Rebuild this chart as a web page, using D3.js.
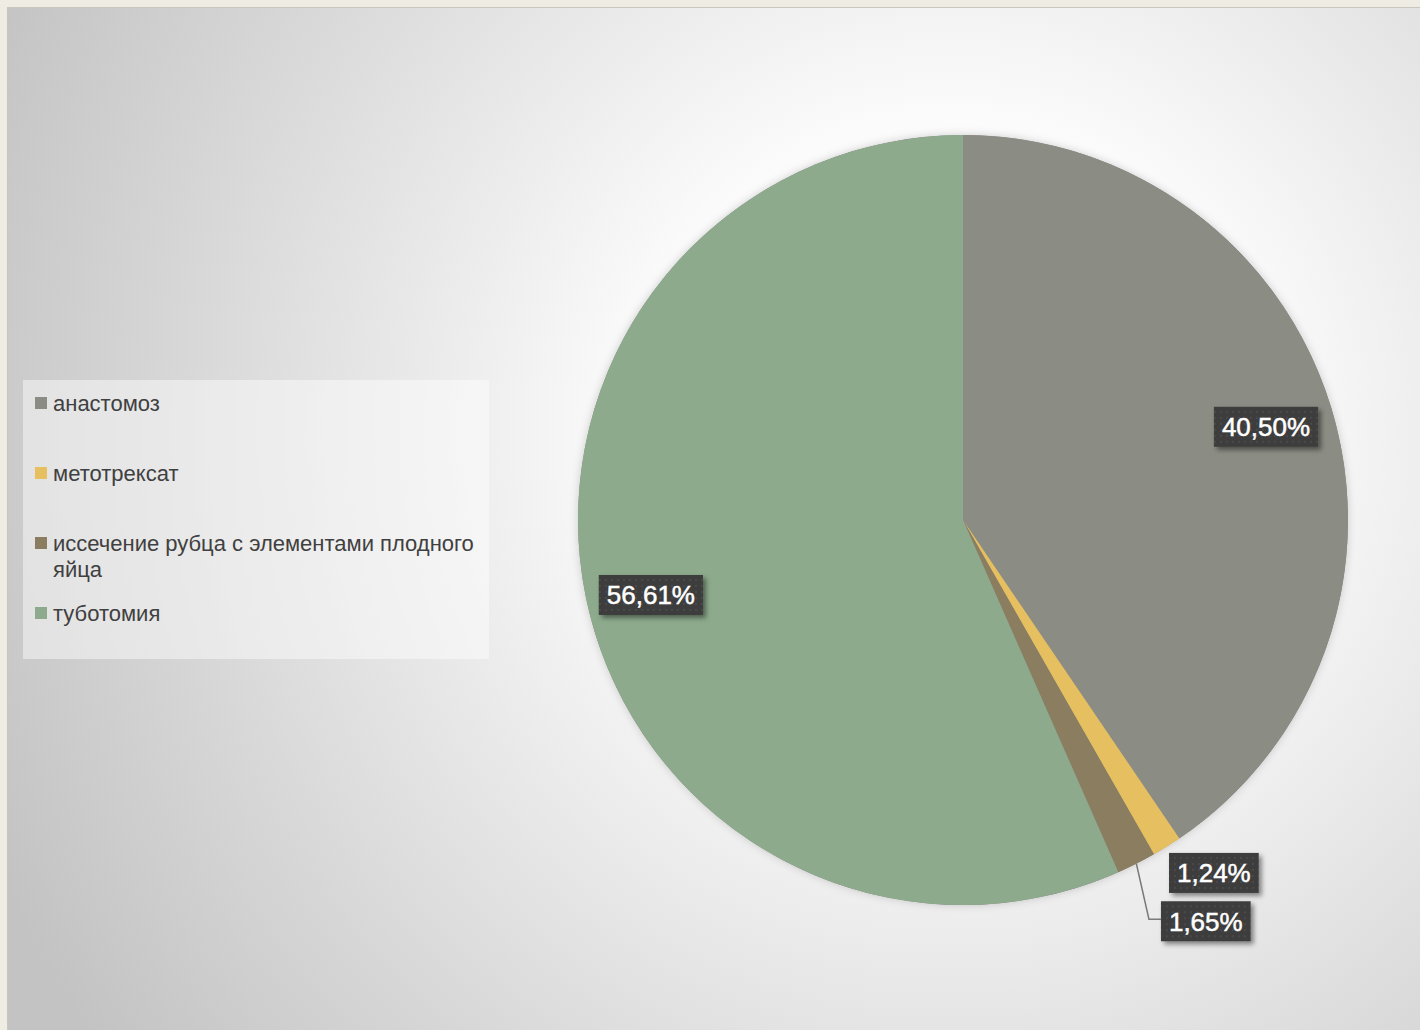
<!DOCTYPE html>
<html><head><meta charset="utf-8">
<script src="https://cdn.jsdelivr.net/npm/d3@7"></script>
<style>html,body{margin:0;padding:0;background:#efece4;}svg{display:block;}</style>
</head><body>
<svg id="chart" width="1420" height="1030"></svg>
<script>
const categories = ["анастомоз", "метотрексат", "иссечение рубца с элементами плодного яйца", "туботомия"];
const values = [40.50, 1.24, 1.65, 56.61];
const labels = ["40,50%", "1,24%", "1,65%", "56,61%"];
const colors = ["#8b8c83", "#e6bf60", "#8b7d5f", "#8dab8c"];

const W = 1420, H = 1030;
const svg = d3.select("#chart");
const defs = svg.append("defs");

const rg = defs.append("radialGradient").attr("id","bg").attr("gradientUnits","userSpaceOnUse")
  .attr("cx", 950).attr("cy", 430).attr("r", 1050);
rg.append("stop").attr("offset","0").attr("stop-color","#ffffff");
rg.append("stop").attr("offset","0.3").attr("stop-color","#fbfbfb");
rg.append("stop").attr("offset","0.75").attr("stop-color","#d6d6d6");
rg.append("stop").attr("offset","1").attr("stop-color","#c3c3c3");

const pat = defs.append("pattern").attr("id","dots").attr("patternUnits","userSpaceOnUse")
  .attr("width",6).attr("height",6);
pat.append("rect").attr("width",6).attr("height",6).attr("fill","#3c3c3c");
pat.append("rect").attr("x",2).attr("y",2).attr("width",2).attr("height",2).attr("fill","#4a4a4a");

const sh = defs.append("filter").attr("id","shadow").attr("x","-20%").attr("y","-20%").attr("width","150%").attr("height","160%");
sh.append("feDropShadow").attr("dx",3).attr("dy",3).attr("stdDeviation",2.5).attr("flood-color","#000").attr("flood-opacity",0.45);

const psh = defs.append("filter").attr("id","pshadow").attr("x","-10%").attr("y","-10%").attr("width","120%").attr("height","120%");
psh.append("feDropShadow").attr("dx",0).attr("dy",0).attr("stdDeviation",4).attr("flood-color","#000").attr("flood-opacity",0.18);

svg.append("rect").attr("x",0).attr("y",0).attr("width",W).attr("height",H).attr("fill","#efece4");
svg.append("rect").attr("x",7).attr("y",7).attr("width",W-7).attr("height",H-7).attr("fill","url(#bg)");
svg.append("line").attr("x1",7).attr("x2",W).attr("y1",7.5).attr("y2",7.5).attr("stroke","#c9c6bf").attr("stroke-width",1);
svg.append("line").attr("x1",7.5).attr("x2",7.5).attr("y1",7).attr("y2",H).attr("stroke","#c9c6bf").attr("stroke-width",1);

const cx = 963, cy = 520, R = 385;
const pie = d3.pie().sort(null).value(d => d)(values);
const arc = d3.arc().innerRadius(0).outerRadius(R);
const g = svg.append("g").attr("transform", `translate(${cx},${cy})`);
g.append("circle").attr("r", R).attr("fill","#888").attr("filter","url(#pshadow)");
g.selectAll("path.slice").data(pie).join("path").attr("class","slice")
  .attr("d", arc).attr("fill", (d,i) => colors[i]);

// label layout: radius and angle offset (rad) from the slice mid-angle
const lay = [
  {r: 317, da: 0},
  {r: 433, da: -0.06},
  {r: 469, da: -0.077},
  {r: 321, da: -0.028}
];
const fontSize = 26;
const lg = svg.append("g").attr("transform", `translate(${cx},${cy})`);
pie.forEach((d, i) => {
  const a = (d.startAngle + d.endAngle) / 2 + lay[i].da;
  const x = lay[i].r * Math.sin(a), y = -lay[i].r * Math.cos(a);
  const grp = lg.append("g").attr("transform", `translate(${x},${y})`);
  const t = grp.append("text").attr("text-anchor","middle").attr("dy","0.36em")
    .attr("font-family","'Liberation Sans', Arial, sans-serif").attr("font-size",fontSize)
    .attr("fill","#ffffff").attr("stroke","#ffffff").attr("stroke-width",0.5).text(labels[i]);
  const bb = t.node().getBBox();
  const bw = bb.width + 16, bh = 40;
  grp.insert("rect","text").attr("x",-bw/2).attr("y",-bh/2).attr("width",bw).attr("height",bh)
    .attr("fill","url(#dots)").attr("filter","url(#shadow)");
  if (i === 2) {
    const mid = (d.startAngle + d.endAngle) / 2;
    const ex = R * Math.sin(mid), ey = -R * Math.cos(mid);
    const lx = x - bw/2;
    lg.insert("path", "g").attr("d", `M${ex},${ey}L${lx-12},${y-2}L${lx},${y-2}`)
      .attr("fill","none").attr("stroke","#7a7a7a").attr("stroke-width",1.5);
  }
});

const leg = svg.append("g");
leg.append("rect").attr("x",23).attr("y",380).attr("width",466).attr("height",279)
  .attr("fill","#ffffff").attr("fill-opacity",0.45);
const rowY = [403, 473, 543, 613];
const lines = [["анастомоз"],["метотрексат"],["иссечение рубца с элементами плодного","яйца"],["туботомия"]];
categories.forEach((c, i) => {
  leg.append("rect").attr("x",35).attr("y",rowY[i]-6).attr("width",12).attr("height",12).attr("fill",colors[i]);
  const t = leg.append("text").attr("x",53).attr("y",rowY[i])
    .attr("font-family","'Liberation Sans', Arial, sans-serif").attr("font-size",22).attr("fill","#404040");
  lines[i].forEach((ln, k) => t.append("tspan").attr("x",53).attr("dy", k === 0 ? "0.35em" : "26").text(ln));
});
</script>
</body></html>
